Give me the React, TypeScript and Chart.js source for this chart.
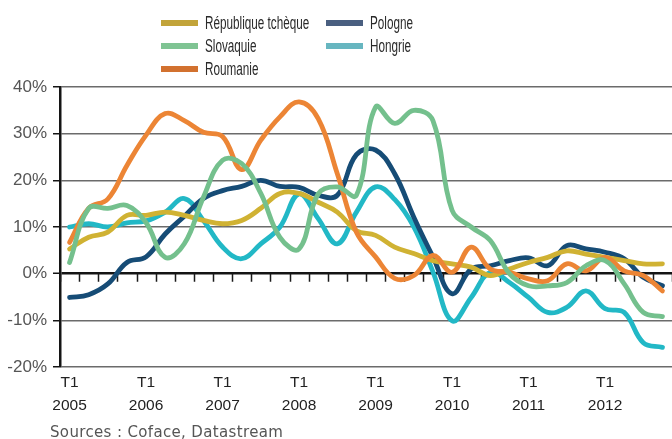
import React, { useEffect, useRef } from "react";
import { Chart, registerables } from "chart.js";

Chart.register(...registerables);

const quarters = [
  "T1 2005", "T2 2005", "T3 2005", "T4 2005",
  "T1 2006", "T2 2006", "T3 2006", "T4 2006",
  "T1 2007", "T2 2007", "T3 2007", "T4 2007",
  "T1 2008", "T2 2008", "T3 2008", "T4 2008",
  "T1 2009", "T2 2009", "T3 2009", "T4 2009",
  "T1 2010", "T2 2010", "T3 2010", "T4 2010",
  "T1 2011", "T2 2011", "T3 2011", "T4 2011",
  "T1 2012", "T2 2012", "T3 2012", "T4 2012",
];

const yTicks = [-20, -10, 0, 10, 20, 30, 40];

const republiqueTcheque = [5.3, 7.8, 8.9, 12.5, 12.5, 13.2, 12.5, 11.4, 10.7, 11.4, 14, 17.2, 17.2, 15.3, 13.2, 9.2, 8.2, 5.7, 4.3, 2.8, 2.1, 1.4, -0.4, 1, 2.4, 3.5, 4.9, 4.2, 3.5, 2.8, 2.1, 2.1];
const slovaquie = [2.4, 14, 14, 14.6, 10.9, 3.5, 6.4, 16.4, 24.3, 23.6, 17.2, 7.8, 5.3, 17.1, 18.6, 16.8, 35.7, 32.2, 35, 32.8, 13.6, 10, 7.1, 0, -2.6, -2.6, -1.9, 1.7, 2.8, -2.2, -8.3, -9.2];
const roumanie = [6.7, 14, 16, 23.2, 29.7, 34.3, 32.8, 30.3, 29.4, 22.3, 28.6, 33.6, 36.8, 33.2, 21.4, 8.9, 3.6, -1, -0.4, 3.9, 0.3, 5.7, 1, 0.3, -1.1, -1.5, 2.1, 0.6, 3.5, 0.6, -0.4, -3.7];
const pologne = [-5.1, -4.5, -2.2, 2.4, 3.6, 8.5, 12.3, 16.1, 17.8, 18.7, 20, 18.7, 18.5, 16.8, 16.8, 25.5, 26.5, 21.4, 12.1, 3.6, -4.3, 1, 1.7, 2.8, 3.4, 1.7, 6, 5.3, 4.6, 3.2, -0.8, -2.6];
const hongrie = [10, 10.7, 10, 10.9, 11.3, 13.2, 16.1, 11.4, 5.7, 3.2, 6.4, 10, 17.1, 11.8, 6.4, 13.2, 18.6, 15.9, 10, 0.4, -10.1, -5.1, 0.3, -1.9, -5.1, -8.3, -7.2, -3.7, -7.5, -8.3, -14.8, -15.8];

const NARROW = '"Liberation Sans Narrow", "Arial Narrow", "Liberation Sans", Arial, sans-serif';

const legendItems = [
  { label: "République tchèque", color: "#C2A43A", col: 0, row: 0 },
  { label: "Slovaquie", color: "#7FC493", col: 0, row: 1 },
  { label: "Roumanie", color: "#D2712F", col: 0, row: 2 },
  { label: "Pologne", color: "#4A5F80", col: 1, row: 0 },
  { label: "Hongrie", color: "#67B6C0", col: 1, row: 1 },
];

const zeroTicksPlugin = {
  id: "zeroTicks",
  beforeDatasetsDraw(chart: any) {
    const { ctx, scales } = chart;
    const x = scales.x;
    const y = scales.y;
    const y0 = y.getPixelForValue(0);
    const n = quarters.length;
    const half = (x.getPixelForValue(1) - x.getPixelForValue(0)) / 2;
    ctx.save();
    ctx.strokeStyle = "#1a1a1a";
    ctx.lineWidth = 1.5;
    ctx.beginPath();
    for (let i = 0; i <= n; i++) {
      const px = i < n ? x.getPixelForValue(i) - half : x.getPixelForValue(n - 1) + half;
      ctx.moveTo(Math.round(px) + 0.5, y0);
      ctx.lineTo(Math.round(px) + 0.5, y0 + 8);
    }
    ctx.stroke();
    ctx.restore();
  },
};

export default function App() {
  const canvasRef = useRef<HTMLCanvasElement | null>(null);

  useEffect(() => {
    document.body.style.margin = "0";
    const canvas = canvasRef.current;
    if (!canvas) return;
    const mk = (label: string, data: number[], color: string) => ({
      label,
      data,
      borderColor: color,
      backgroundColor: color,
      borderWidth: 4.8,
      pointRadius: 0,
      tension: 0.4,
      fill: false,
      borderCapStyle: "round" as const,
      borderJoinStyle: "round" as const,
    });
    const chart = new Chart(canvas, {
      type: "line",
      data: {
        labels: quarters,
        datasets: [
          mk("Slovaquie", slovaquie, "#74C08D"),
          mk("Roumanie", roumanie, "#EC8535"),
          mk("République tchèque", republiqueTcheque, "#D0B233"),
          mk("Pologne", pologne, "#164C76"),
          mk("Hongrie", hongrie, "#22B8C6"),
        ],
      },
      options: {
        animation: false,
        responsive: false,
        maintainAspectRatio: false,
        layout: { padding: { top: 87, left: 0, right: 0, bottom: 0 } },
        plugins: {
          legend: { display: false },
          tooltip: { enabled: false },
        },
        scales: {
          x: {
            type: "category",
            offset: true,
            grid: { display: false, drawTicks: false },
            border: { display: false },
            ticks: {
              autoSkip: false,
              maxRotation: 0,
              minRotation: 0,
              padding: 4,
              color: "#222",
              font: { family: NARROW, size: 15.5, lineHeight: 1.5 },
              callback: (_v: any, i: number) => {
                const q = quarters[i];
                if (q && q.startsWith("T1")) {
                  const parts = q.split(" ");
                  return [parts[0], parts[1]];
                }
                return "";
              },
            },
            afterFit: (s: any) => {
              s.height = 72;
            },
          },
          y: {
            min: yTicks[0],
            max: yTicks[yTicks.length - 1],
            afterBuildTicks: (s: any) => {
              s.ticks = yTicks.map((v) => ({ value: v }));
            },
            grid: {
              color: (c: any) => (c.tick && c.tick.value === 0 ? "#141414" : "#6b6b6b"),
              lineWidth: (c: any) => (c.tick && c.tick.value === 0 ? 2.5 : 1.5),
              tickColor: "#141414",
              tickLength: 7,
              tickWidth: 1.5,
            },
            border: { display: true, color: "#141414", width: 2.5 },
            ticks: {
              padding: 6,
              color: "#555",
              font: { family: NARROW, size: 17 },
              callback: (v: any) => v + "%",
            },
            afterFit: (s: any) => {
              s.width = 60;
            },
          },
        },
      },
      plugins: [zeroTicksPlugin],
    });
    return () => chart.destroy();
  }, []);

  return (
    <div style={{ position: "absolute", left: 0, top: 0, width: 672, height: 439, background: "#fff", overflow: "hidden" }}>
      <canvas ref={canvasRef} width={672} height={439} style={{ position: "absolute", left: 0, top: 0, width: 672, height: 439 }} />
      {legendItems.map((it) => {
        const top = [23, 45.5, 68.5][it.row];
        const sx = it.col === 0 ? 161 : 326;
        const tx = it.col === 0 ? 205 : 370;
        return (
          <React.Fragment key={it.label}>
            <div style={{ position: "absolute", left: sx, top: top - 3, width: 37, height: 6, background: it.color }} />
            <div
              style={{
                position: "absolute",
                left: tx,
                top: top - 11,
                height: 22,
                lineHeight: "22px",
                fontFamily: NARROW,
                fontSize: 17.5,
                color: "#2a2a2a",
                whiteSpace: "nowrap",
                transform: "scaleX(0.67)",
                transformOrigin: "left center",
              }}
            >
              {it.label}
            </div>
          </React.Fragment>
        );
      })}
      <div
        style={{
          position: "absolute",
          left: 50,
          top: 423,
          lineHeight: "18px",
          fontFamily: '"DejaVu Sans", Verdana, sans-serif',
          fontSize: 15,
          letterSpacing: "0.35px",
          color: "#555",
          whiteSpace: "nowrap",
        }}
      >
        Sources : Coface, Datastream
      </div>
    </div>
  );
}
